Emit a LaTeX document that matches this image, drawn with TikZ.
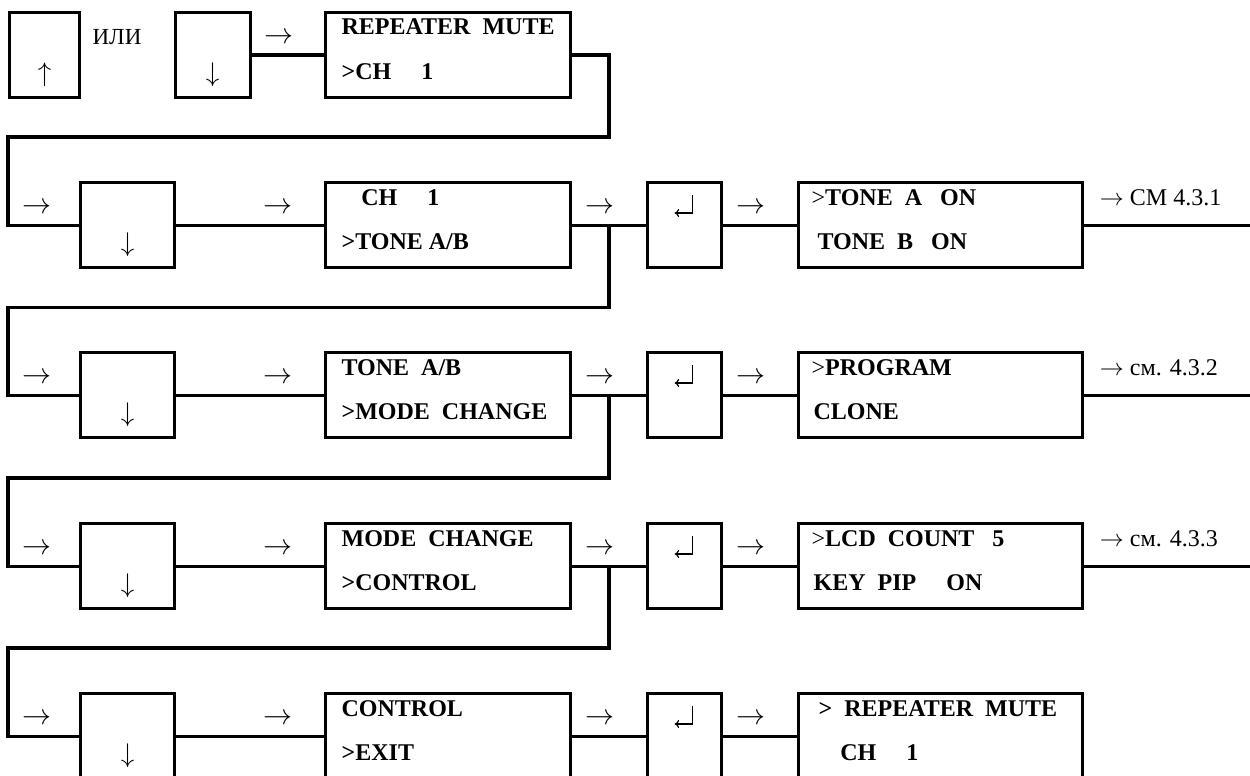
\RequirePackage{fix-cm}
\documentclass[tikz,border=0pt]{standalone}
\usepackage{fontspec}
\setmainfont{Liberation Serif}
\usetikzlibrary{arrows.meta}

\begin{document}
\begin{tikzpicture}[x=1pt,y=-1pt,line width=3.3pt,
    box/.style={draw,inner sep=0pt,minimum height=85pt,anchor=north west},
    keybox/.style={box,minimum width=94pt},
    enterbox/.style={box,minimum width=74pt},
    screen/.style={box,minimum width=245pt},
    menu/.style={box,minimum width=284pt},
    txt/.style={inner sep=0pt,anchor=base west,font=\bfseries\fontsize{24}{28}\selectfont},
    arw/.style={inner sep=0pt,font=\fontsize{29}{30}\selectfont},
    keysym/.style={inner sep=0pt,font=\fontsize{27}{30}\selectfont},
    note/.style={inner sep=0pt,anchor=base west,font=\fontsize{24}{28}\selectfont},
    enterkey/.pic={\draw[line width=1.2pt,-{To[length=4.5pt,width=8pt]}] (8,-10) -- (8,8) -- (-10,8);}]
      \useasboundingbox (0,0) rectangle (1250,776);
      \clip (0,0) rectangle (1250,776);
      \coordinate (rim) at (1250,0);
      \coordinate (wall) at (8,0);
      \coordinate (j1) at (609,137);
      \coordinate (j2) at (609,307.5);
      \coordinate (j3) at (609,478);
      \coordinate (j4) at (609,648);

      % row 1
      \node[box,minimum width=70pt] (up) at (8,11) {};
      \node[keysym] at ([yshift=-64pt]up.north) {$\uparrow$};
      \node[inner sep=0pt,font=\fontsize{23}{26}\selectfont] (ili) at (117,37) {ИЛИ};
      \node[box,minimum width=75pt] (dn) at (173.5,11) {};
      \node[keysym] at ([yshift=-64pt]dn.north) {$\downarrow$};
      \node[screen] (s1) at (324,11) {};
      \node[txt] at ([xshift=16pt,yshift=-24pt]s1.north west) {REPEATER\ \ MUTE};
      \node[txt] at ([xshift=16pt,yshift=-68pt]s1.north west) {>CH\quad\ 1};
      \node[arw] at ([xshift=-45pt,yshift=17pt]s1.west) {$\rightarrow$};
      \draw (dn.east) -- (s1.west);

      % row 2
      \node[keybox] (k2) at (79,181) {};
      \node[keysym] at ([yshift=-64pt]k2.north) {$\downarrow$};
      \node[screen] (s2) at (324,181) {};
      \node[txt] at ([xshift=16pt,yshift=-24pt]s2.north west) {\hphantom{>}\ CH\quad\ 1};
      \node[txt] at ([xshift=16pt,yshift=-68pt]s2.north west) {>TONE A/B};
      \node[enterbox] (e2) at (646,181) {};
      \pic at ([yshift=-24pt]e2.north) {enterkey};
      \node[menu] (t2) at (797,181) {};
      \node[txt] at ([xshift=13pt,yshift=-24pt]t2.north west) {{\mdseries >}TONE\ \ A\ \ \ ON};
      \node[txt] at ([xshift=13pt,yshift=-68pt]t2.north west) {\ TONE\ \ B\ \ \ ON};
      \node[note] at ([xshift=14pt,yshift=-24pt]t2.north east) {$\rightarrow$\ СМ 4.3.1};
      \node[arw] at ([xshift=-42pt,yshift=17pt]k2.west) {$\rightarrow$};
      \node[arw] at ([xshift=-46pt,yshift=17pt]s2.west) {$\rightarrow$};
      \node[arw] at ([xshift=-46pt,yshift=17pt]e2.west) {$\rightarrow$};
      \node[arw] at ([xshift=-46pt,yshift=17pt]t2.west) {$\rightarrow$};
      \draw (k2.east) -- (s2.west);
      \draw (s2.east) -- (e2.west);
      \draw (e2.east) -- (t2.west);
      \draw (t2.east) -- (t2.east -| rim);
      \draw (s1.east) -| (j1) -| (wall |- k2.west) -- (k2.west);

      % row 3
      \node[keybox] (k3) at (79,351) {};
      \node[keysym] at ([yshift=-64pt]k3.north) {$\downarrow$};
      \node[screen] (s3) at (324,351) {};
      \node[txt] at ([xshift=16pt,yshift=-24pt]s3.north west) {TONE\ \ A/B};
      \node[txt] at ([xshift=16pt,yshift=-68pt]s3.north west) {>MODE\ \ CHANGE};
      \node[enterbox] (e3) at (646,351) {};
      \pic at ([yshift=-24pt]e3.north) {enterkey};
      \node[menu] (t3) at (797,351) {};
      \node[txt] at ([xshift=13pt,yshift=-24pt]t3.north west) {{\mdseries >}PROGRAM};
      \node[txt] at ([xshift=15pt,yshift=-68pt]t3.north west) {CLONE};
      \node[note] at ([xshift=14pt,yshift=-24pt]t3.north east) {$\rightarrow$\ см. 4.3.2};
      \node[arw] at ([xshift=-42pt,yshift=17pt]k3.west) {$\rightarrow$};
      \node[arw] at ([xshift=-46pt,yshift=17pt]s3.west) {$\rightarrow$};
      \node[arw] at ([xshift=-46pt,yshift=17pt]e3.west) {$\rightarrow$};
      \node[arw] at ([xshift=-46pt,yshift=17pt]t3.west) {$\rightarrow$};
      \draw (k3.east) -- (s3.west);
      \draw (s3.east) -- (e3.west);
      \draw (e3.east) -- (t3.west);
      \draw (t3.east) -- (t3.east -| rim);
      \draw (s2.east -| j2) -- (j2) -| (wall |- k3.west) -- (k3.west);

      % row 4
      \node[keybox] (k4) at (79,522) {};
      \node[keysym] at ([yshift=-64pt]k4.north) {$\downarrow$};
      \node[screen] (s4) at (324,522) {};
      \node[txt] at ([xshift=16pt,yshift=-24pt]s4.north west) {MODE\ \ CHANGE};
      \node[txt] at ([xshift=16pt,yshift=-68pt]s4.north west) {>CONTROL};
      \node[enterbox] (e4) at (646,522) {};
      \pic at ([yshift=-24pt]e4.north) {enterkey};
      \node[menu] (t4) at (797,522) {};
      \node[txt] at ([xshift=13pt,yshift=-24pt]t4.north west) {{\mdseries >}LCD\ \ COUNT\ \ \ 5};
      \node[txt] at ([xshift=15pt,yshift=-68pt]t4.north west) {KEY\ \ PIP\ \ \ \ \ ON};
      \node[note] at ([xshift=14pt,yshift=-24pt]t4.north east) {$\rightarrow$\ см. 4.3.3};
      \node[arw] at ([xshift=-42pt,yshift=17pt]k4.west) {$\rightarrow$};
      \node[arw] at ([xshift=-46pt,yshift=17pt]s4.west) {$\rightarrow$};
      \node[arw] at ([xshift=-46pt,yshift=17pt]e4.west) {$\rightarrow$};
      \node[arw] at ([xshift=-46pt,yshift=17pt]t4.west) {$\rightarrow$};
      \draw (k4.east) -- (s4.west);
      \draw (s4.east) -- (e4.west);
      \draw (e4.east) -- (t4.west);
      \draw (t4.east) -- (t4.east -| rim);
      \draw (s3.east -| j3) -- (j3) -| (wall |- k4.west) -- (k4.west);

      % row 5
      \node[keybox] (k5) at (79,692) {};
      \node[keysym] at ([yshift=-64pt]k5.north) {$\downarrow$};
      \node[screen] (s5) at (324,692) {};
      \node[txt] at ([xshift=16pt,yshift=-24pt]s5.north west) {CONTROL};
      \node[txt] at ([xshift=16pt,yshift=-68pt]s5.north west) {>EXIT};
      \node[enterbox] (e5) at (646,692) {};
      \pic at ([yshift=-24pt]e5.north) {enterkey};
      \node[menu] (t5) at (797,692) {};
      \node[txt] at ([xshift=20pt,yshift=-24pt]t5.north west) {> \ REPEATER\ \ MUTE};
      \node[txt] at ([xshift=16pt,yshift=-68pt]t5.north west) {\hphantom{>}\ \ CH\quad\ 1};
      \node[arw] at ([xshift=-42pt,yshift=17pt]k5.west) {$\rightarrow$};
      \node[arw] at ([xshift=-46pt,yshift=17pt]s5.west) {$\rightarrow$};
      \node[arw] at ([xshift=-46pt,yshift=17pt]e5.west) {$\rightarrow$};
      \node[arw] at ([xshift=-46pt,yshift=17pt]t5.west) {$\rightarrow$};
      \draw (k5.east) -- (s5.west);
      \draw (s5.east) -- (e5.west);
      \draw (e5.east) -- (t5.west);
      \draw (s4.east -| j4) -- (j4) -| (wall |- k5.west) -- (k5.west);
\end{tikzpicture}
\end{document}
